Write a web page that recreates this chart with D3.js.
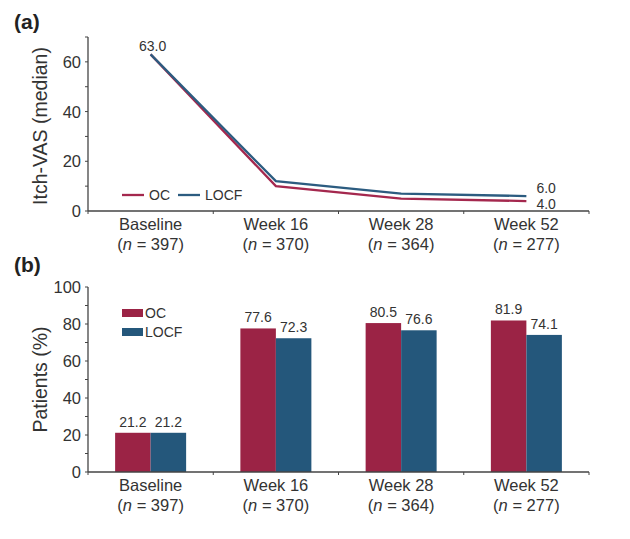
<!DOCTYPE html>
<html>
<head>
<meta charset="utf-8">
<script src="https://cdn.jsdelivr.net/npm/d3@7"></script>
<style>
  body { margin: 0; background: #fff; }
  text { font-family: "Liberation Sans", Arial, sans-serif; fill: #333; }
</style>
</head>
<body>
<div id="chart"></div>
<script>
var width = 630;
var height = 539;

// Data
var categories = ["Baseline", "Week 16", "Week 28", "Week 52"];
var nValues = [397, 370, 364, 277];
var series = ["OC", "LOCF"];
var colors = { OC: "#9b2345", LOCF: "#24577b" };
var lineColors = { OC: "#a4284e", LOCF: "#2c5c80" };

// Panel (a): Itch-VAS median
var vasOC = [63.0, 10, 5, 4.0];
var vasLOCF = [63.0, 12, 7, 6.0];
var vasLabels = [
    { series: "LOCF", index: 0, text: "63.0" },
    { series: "LOCF", index: 3, text: "6.0" },
    { series: "OC", index: 3, text: "4.0" }
];

// Panel (b): patients (%)
var pctOC = [21.2, 77.6, 80.5, 81.9];
var pctLOCF = [21.2, 72.3, 76.6, 74.1];

var left = 88, right = 589;

var svg = d3.select("#chart")
    .append("svg")
    .attr("width", width)
    .attr("height", height);

var x = d3.scaleBand()
    .domain(categories)
    .range([left, right])
    .padding(0);

function drawYAxis(g, y, majors, minors) {
    g.append("line")
        .attr("x1", left).attr("x2", left)
        .attr("y1", y.range()[1]).attr("y2", y.range()[0])
        .attr("stroke", "#444").attr("stroke-width", 1.3);
    majors.concat(minors).forEach(function(v) {
        g.append("line")
            .attr("x1", left - 3).attr("x2", left)
            .attr("y1", y(v)).attr("y2", y(v))
            .attr("stroke", "#444").attr("stroke-width", 1);
    });
    g.selectAll(".ytick")
        .data(majors)
        .enter()
        .append("text")
        .attr("x", left - 7)
        .attr("y", function(d) { return y(d); })
        .attr("dy", "0.36em")
        .attr("text-anchor", "end")
        .style("font-size", "16.5px")
        .text(function(d) { return d; });
}

function drawXAxis(g, y0) {
    g.append("line")
        .attr("x1", left).attr("x2", right)
        .attr("y1", y0).attr("y2", y0)
        .attr("stroke", "#444").attr("stroke-width", 1.3);
    var bounds = categories.map(function(c) { return x(c); }).concat([right]);
    bounds.forEach(function(b) {
        g.append("line")
            .attr("x1", b).attr("x2", b)
            .attr("y1", y0).attr("y2", y0 + 3)
            .attr("stroke", "#444").attr("stroke-width", 1);
    });
    categories.forEach(function(c, i) {
        var cx = x(c) + x.bandwidth() / 2;
        g.append("text")
            .attr("x", cx).attr("y", y0 + 19)
            .attr("text-anchor", "middle")
            .style("font-size", "16.5px")
            .text(c);
        var t = g.append("text")
            .attr("x", cx).attr("y", y0 + 39)
            .attr("text-anchor", "middle")
            .style("font-size", "16.5px");
        t.append("tspan").text("(");
        t.append("tspan").style("font-style", "italic").text("n");
        t.append("tspan").text(" = " + nValues[i] + ")");
    });
}

// ---------- Panel (a) ----------
var ga = svg.append("g");
var ya = d3.scaleLinear().domain([0, 70]).range([211, 37]);

ga.append("text")
    .attr("x", 14).attr("y", 29)
    .style("font-size", "21px").style("font-weight", "bold")
    .style("fill", "#222")
    .text("(a)");

ga.append("text")
    .attr("transform", "translate(47," + ((211 + 37) / 2 + 2) + ") rotate(-90)")
    .attr("text-anchor", "middle")
    .style("font-size", "19.5px")
    .text("Itch-VAS (median)");

drawYAxis(ga, ya, [0, 20, 40, 60], [10, 30, 50, 70]);
drawXAxis(ga, ya(0));

var line = d3.line()
    .x(function(d, i) { return x(categories[i]) + x.bandwidth() / 2; })
    .y(function(d) { return ya(d); });

var vasData = { OC: vasOC, LOCF: vasLOCF };
series.forEach(function(s) {
    ga.append("path")
        .datum(vasData[s])
        .attr("fill", "none")
        .attr("stroke", lineColors[s])
        .attr("stroke-width", 2.3)
        .attr("d", line);
});

vasLabels.forEach(function(l) {
    var px = x(categories[l.index]) + x.bandwidth() / 2;
    var py = ya(vasData[l.series][l.index]);
    var t = ga.append("text").style("font-size", "14px");
    if (l.index === 0) {
        t.attr("x", px + 2).attr("y", py - 3).attr("text-anchor", "middle");
    } else {
        t.attr("x", px + 10).attr("y", py + (l.series === "LOCF" ? -3 : 8)).attr("text-anchor", "start");
    }
    t.text(l.text);
});

// legend (a)
var legA = [{ s: "OC", x: 122 }, { s: "LOCF", x: 178 }];
legA.forEach(function(d) {
    ga.append("line")
        .attr("x1", d.x).attr("x2", d.x + 22)
        .attr("y1", 195).attr("y2", 195)
        .attr("stroke", lineColors[d.s]).attr("stroke-width", 2.3);
    ga.append("text")
        .attr("x", d.x + 27).attr("y", 200)
        .style("font-size", "14px")
        .text(d.s);
});

// ---------- Panel (b) ----------
var gb = svg.append("g");
var yb = d3.scaleLinear().domain([0, 100]).range([472, 287]);

gb.append("text")
    .attr("x", 14).attr("y", 272)
    .style("font-size", "21px").style("font-weight", "bold")
    .style("fill", "#222")
    .text("(b)");

gb.append("text")
    .attr("transform", "translate(47," + ((472 + 287) / 2) + ") rotate(-90)")
    .attr("text-anchor", "middle")
    .style("font-size", "19.5px")
    .text("Patients (%)");

var x1 = d3.scaleBand().domain(series).range([0, 71]).padding(0);
var pctData = { OC: pctOC, LOCF: pctLOCF };

categories.forEach(function(c, i) {
    var gx = x(c) + x.bandwidth() / 2 - 35.5;
    series.forEach(function(s) {
        var v = pctData[s][i];
        gb.append("rect")
            .attr("x", gx + x1(s))
            .attr("y", yb(v))
            .attr("width", x1.bandwidth())
            .attr("height", yb(0) - yb(v))
            .attr("fill", colors[s]);
        gb.append("text")
            .attr("x", gx + x1(s) + x1.bandwidth() / 2)
            .attr("y", yb(v) - 6)
            .attr("text-anchor", "middle")
            .style("font-size", "14px")
            .text(v.toFixed(1));
    });
});

drawYAxis(gb, yb, [0, 20, 40, 60, 80, 100], [10, 30, 50, 70, 90]);
drawXAxis(gb, yb(0));

// legend (b)
var legB = [{ s: "OC", y: 309 }, { s: "LOCF", y: 328 }];
legB.forEach(function(d) {
    gb.append("rect")
        .attr("x", 122).attr("y", d.y)
        .attr("width", 21).attr("height", 8)
        .attr("fill", colors[d.s]);
    gb.append("text")
        .attr("x", 145).attr("y", d.y + 9)
        .style("font-size", "14px")
        .text(d.s);
});
</script>
</body>
</html>
